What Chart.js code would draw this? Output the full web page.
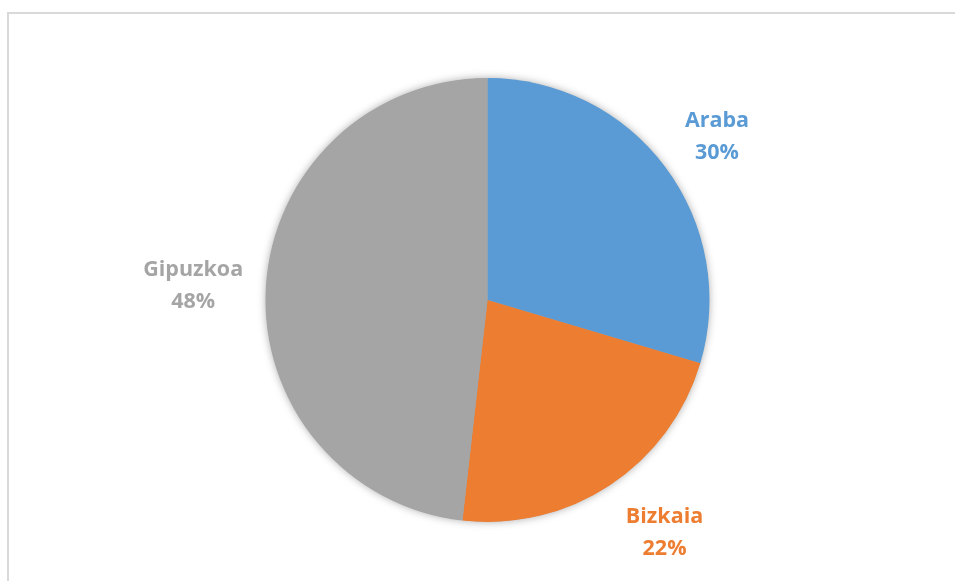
<!DOCTYPE html>
<html><head><meta charset="utf-8">
<script src="https://cdn.jsdelivr.net/npm/chart.js@4.4.0/dist/chart.umd.min.js"></script>
<style>html,body{margin:0;padding:0;background:#fff;}#wrap{width:955px;height:581px;position:relative;}</style>
</head><body><div id="wrap"><canvas id="c" width="955" height="581"></canvas></div>
<script>
const categories = ["Araba", "Bizkaia", "Gipuzkoa"];
const values = [29.6, 22.2, 48.2];
const percentLabels = ["30%", "22%", "48%"];
const colors = ["#5B9BD5", "#ED7D31", "#A5A5A5"];

const framePlugin = {
  id: 'frame',
  beforeDraw(chart) {
    const ctx = chart.ctx;
    ctx.save();
    ctx.fillStyle = '#fff';
    ctx.fillRect(0, 0, chart.width, chart.height);
    ctx.strokeStyle = '#d9d9d9';
    ctx.lineWidth = 2;
    ctx.beginPath();
    ctx.moveTo(8, chart.height + 5);
    ctx.lineTo(8, 13);
    ctx.lineTo(chart.width + 5, 13);
    ctx.stroke();
    ctx.restore();
  }
};

const shadowPlugin = {
  id: 'pieShadow',
  beforeDatasetsDraw(chart) {
    const arc = chart.getDatasetMeta(0).data[0];
    if (!arc) return;
    const ctx = chart.ctx;
    ctx.save();
    ctx.shadowColor = 'rgba(0,0,0,0.35)';
    ctx.shadowBlur = 9;
    ctx.fillStyle = '#a5a5a5';
    ctx.beginPath();
    ctx.arc(arc.x, arc.y, arc.outerRadius - 0.5, 0, Math.PI * 2);
    ctx.fill();
    ctx.restore();
  }
};

const labelPlugin = {
  id: 'outLabels',
  afterDatasetsDraw(chart) {
    const ctx = chart.ctx;
    const meta = chart.getDatasetMeta(0);
    ctx.save();
    ctx.font = 'bold 21.5px "Open Sans"';
    ctx.textAlign = 'center';
    ctx.textBaseline = 'middle';
    const factors = [1.27, 1.315, 1.328];
    const nudges = [[3.5, 5], [16, -11], [0, 3]];
    meta.data.forEach((arc, i) => {
      const mid = (arc.startAngle + arc.endAngle) / 2;
      const r = arc.outerRadius * factors[i];
      const x = arc.x + Math.cos(mid) * r + nudges[i][0];
      const y = arc.y + Math.sin(mid) * r + nudges[i][1];
      ctx.fillStyle = colors[i];
      ctx.fillText(categories[i], x, y - 16);
      ctx.fillText(percentLabels[i], x, y + 16);
    });
    ctx.restore();
  }
};

new Chart(document.getElementById('c'), {
  type: 'pie',
  data: {
    labels: categories,
    datasets: [{
      data: values,
      backgroundColor: colors,
      borderWidth: 0
    }]
  },
  options: {
    responsive: false,
    animation: false,
    layout: { padding: { left: 20, right: 0, top: 78, bottom: 59 } },
    plugins: { legend: { display: false }, tooltip: { enabled: false } }
  },
  plugins: [framePlugin, shadowPlugin, labelPlugin]
});
</script>
</body></html>
